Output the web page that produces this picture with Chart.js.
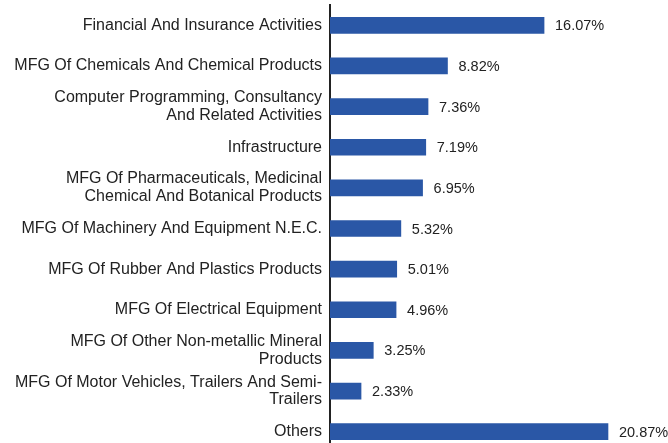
<!DOCTYPE html>
<html><head><meta charset="utf-8">
<script src="https://cdn.jsdelivr.net/npm/chart.js@4/dist/chart.umd.min.js"></script>
<style>
html,body{margin:0;padding:0;background:#fff;overflow:hidden;}
#wrap{position:relative;width:668px;height:452px;}
</style></head>
<body>
<div id="wrap"><canvas id="c"></canvas></div>
<script>
const categories = [
  ["Financial And Insurance Activities"],
  ["MFG Of Chemicals And Chemical Products"],
  ["Computer Programming, Consultancy", "And Related Activities"],
  ["Infrastructure"],
  ["MFG Of Pharmaceuticals, Medicinal", "Chemical And Botanical Products"],
  ["MFG Of Machinery And Equipment N.E.C."],
  ["MFG Of Rubber And Plastics Products"],
  ["MFG Of Electrical Equipment"],
  ["MFG Of Other Non-metallic Mineral", "Products"],
  ["MFG Of Motor Vehicles, Trailers And Semi-", "Trailers"],
  ["Others"]
];
const shares = [16.07, 8.82, 7.36, 7.19, 6.95, 5.32, 5.01, 4.96, 3.25, 2.33, 20.87];
const valueLabels = ["16.07%", "8.82%", "7.36%", "7.19%", "6.95%", "5.32%", "5.01%", "4.96%", "3.25%", "2.33%", "20.87%"];
const axisMax = 25;

const FONT = "'Liberation Sans', Arial, Helvetica, sans-serif";

const valueLabelPlugin = {
  id: 'valueLabels',
  afterDatasetsDraw(chart) {
    const ctx = chart.ctx;
    const meta = chart.getDatasetMeta(0);
    ctx.save();
    ctx.font = "14.5px " + FONT;
    ctx.fillStyle = "#222";
    ctx.textAlign = "left";
    ctx.textBaseline = "middle";
    meta.data.forEach((bar, i) => {
      ctx.fillText(valueLabels[i], bar.x + 11, bar.y + 1);
    });
    ctx.restore();
  }
};

new Chart(document.getElementById('c'), {
  type: 'bar',
  data: {
    labels: categories,
    datasets: [{
      data: shares,
      backgroundColor: '#2a57a6',
      borderWidth: 0,
      barThickness: 16
    }]
  },
  options: {
    indexAxis: 'y',
    responsive: true,
    maintainAspectRatio: false,
    animation: false,
    layout: { padding: { top: 5, right: 5, bottom: 0, left: 0 } },
    plugins: { legend: { display: false }, tooltip: { enabled: false } },
    scales: {
      x: {
        display: false,
        min: 0,
        max: axisMax
      },
      y: {
        afterFit(scale) { scale.width = 330; scale.paddingTop = 0; scale.paddingBottom = 0; },
        grid: { display: false, drawTicks: false },
        border: { display: true, color: '#222', width: 2 },
        ticks: {
          color: '#222',
          padding: 8,
          font: { family: FONT, size: 16, lineHeight: 1.1 },
          autoSkip: false
        }
      }
    }
  },
  plugins: [valueLabelPlugin]
});
</script>
</body></html>
